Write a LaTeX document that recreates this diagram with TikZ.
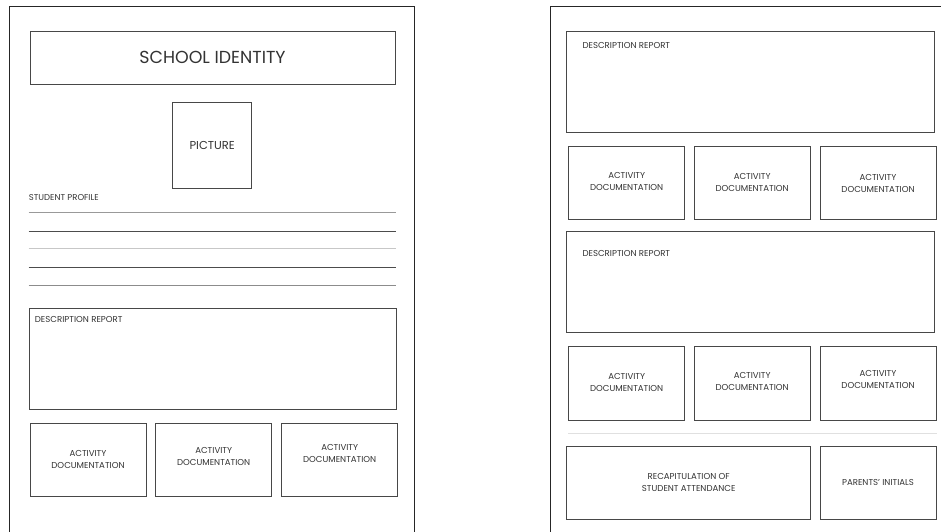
\documentclass[tikz,border=0pt]{standalone}
\usepackage{fontspec}
\setmainfont{Poppins}
\newcommand\twolns[3][0pt]{\raisebox{#1}[\height][\depth]{\begin{tabular}{@{}c@{}}#2\\#3\end{tabular}}}
\begin{document}
\begin{tikzpicture}[x=1pt,y=-1pt,
  page/.style={draw=black!85, line width=1pt},
  box/.style={draw=black!72, line width=1pt, inner sep=0pt, outer sep=0pt, anchor=north west, text=black!80, align=center},
  actbox/.style={box, minimum width=116pt, minimum height=73.3pt, font=\fontsize{8.6}{12}\selectfont},
  desclabel/.style={anchor=north west, inner sep=0pt, text=black!80, font=\fontsize{8.6}{10}\selectfont},
  rule/.style={line width=0.9pt}
]
\useasboundingbox (0,0) rectangle (941,531);
\fill[white] (0,0) rectangle (941,531);

% pages
\draw[page] (9.3,535) -- (9.3,6) -- (414.7,6) -- (414.7,535);
\draw[page] (550,535) -- (550,6) -- (945,6);

% ---------- left page ----------
\node[box, minimum width=365pt, minimum height=53pt, font=\fontsize{17.4}{20}\selectfont] (school) at (30,31) {SCHOOL IDENTITY};
\node[box, minimum width=79pt, minimum height=86.4pt, font=\fontsize{11.5}{13}\selectfont] (pic) at (172.7,102.3) {PICTURE};
\node[desclabel, font=\fontsize{8.5}{10}\selectfont] (profile) at (28.7,194) {STUDENT PROFILE};
\draw[rule, black!40] (28.7,212.3) -- (396,212.3);
\draw[rule, black!70] (28.7,231) -- (396,231);
\draw[rule, black!22] (28.7,248.7) -- (396,248.7);
\draw[rule, black!70] (28.7,267) -- (396,267);
\draw[rule, black!45] (28.7,285) -- (396,285);

\node[box, minimum width=367pt, minimum height=100.6pt] (descL) at (29,308.7) {};
\node[desclabel] (descLt) at (34.7,316) {DESCRIPTION REPORT};

\node[actbox] (actL1) at (30,423.3) {\twolns{ACTIVITY}{DOCUMENTATION}};
\node[actbox] (actL2) at (155.7,423.3) {\twolns[2.5pt]{ACTIVITY}{DOCUMENTATION}};
\node[actbox] (actL3) at (281.7,423.3) {\twolns[6pt]{ACTIVITY}{DOCUMENTATION}};

% ---------- right page ----------
\node[box, minimum width=367.6pt, minimum height=101pt] (descR1) at (566.7,31) {};
\node[desclabel] (descR1t) at (582.3,42.5) {DESCRIPTION REPORT};

\node[actbox] (actR1) at (568.7,146) {\twolns[0.5pt]{ACTIVITY}{DOCUMENTATION}};
\node[actbox, minimum width=115.7pt] (actR2) at (694.3,146) {\twolns{ACTIVITY}{DOCUMENTATION}};
\node[actbox] (actR3) at (820,146) {\twolns[-1.5pt]{ACTIVITY}{DOCUMENTATION}};

\node[box, minimum width=367.6pt, minimum height=100.6pt] (descR2) at (566.7,231.7) {};
\node[desclabel] (descR2t) at (582.3,250.5) {DESCRIPTION REPORT};

\node[actbox] (actR4) at (568.7,346.7) {\twolns{ACTIVITY}{DOCUMENTATION}};
\node[actbox, minimum width=115.7pt] (actR5) at (694.3,346.7) {\twolns[1.5pt]{ACTIVITY}{DOCUMENTATION}};
\node[actbox] (actR6) at (820,346.7) {\twolns[3pt]{ACTIVITY}{DOCUMENTATION}};

\draw[line width=1pt, black!12] (568.3,433.3) -- (936.7,433.3);

\node[actbox, minimum width=244pt] (recap) at (566.7,446) {\twolns{RECAPITULATION OF}{STUDENT ATTENDANCE}};
\node[actbox] (parents) at (820,446) {PARENTS' INITIALS};
\end{tikzpicture}
\end{document}
